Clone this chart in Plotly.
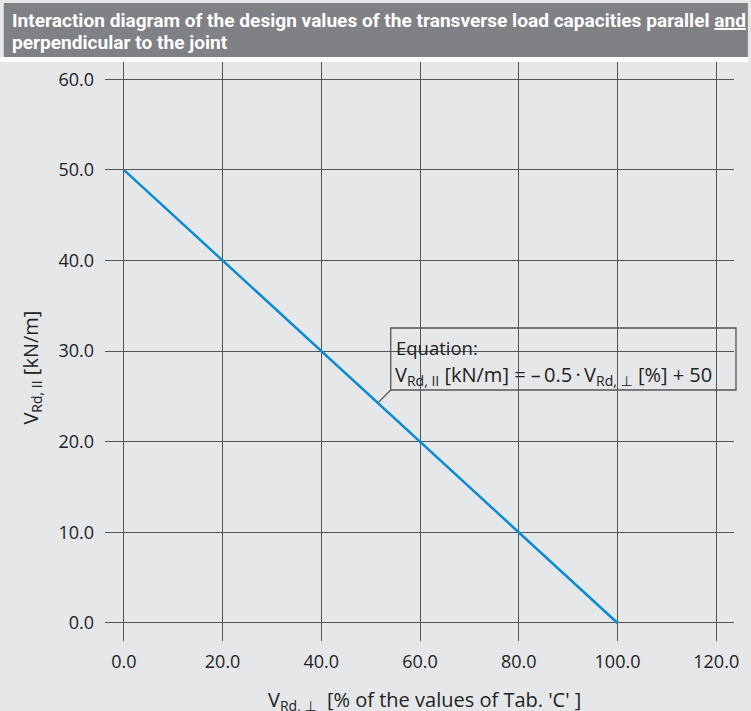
import plotly.graph_objects as go

# data
x_percent = [0, 100]
v_parallel = [50, 0]
x_ticks = [0, 20, 40, 60, 80, 100, 120]
y_ticks = [0, 10, 20, 30, 40, 50, 60]
title_line1 = "Interaction diagram of the design values of the transverse load capacities parallel <u>and</u>"
title_line2 = "perpendicular to the joint"
eq_line1 = "Equation:"
eq_line2 = ("V<sub>Rd, II</sub> [kN/m] = \u2013\u20090.5\u2009\u00b7\u2009"
            "V<sub>Rd, \u22a5</sub> [%] + 50")
x_title = "V<sub>Rd, \u22a5</sub>  [% of the values of Tab. 'C' ]"
y_title = "V<sub>Rd, II</sub> [kN/m]"

W, H = 751, 711
L, R, T, B = 105, 12, 62, 70
pw, ph = W - L - R, H - T - B

def px(xp):
    return (xp - L) / pw

def py(yp):
    return (H - B - yp) / ph

BG = "#e6e7e9"
GRID = "#555555"
FONT = "Open Sans, DejaVu Sans, sans-serif"
TFONT = "Liberation Sans Narrow, Roboto, sans-serif"

fig = go.Figure()
fig.add_trace(go.Scatter(x=x_percent, y=v_parallel, mode="lines",
                         line=dict(color="#0a8bd2", width=2.5),
                         showlegend=False, hoverinfo="skip"))

fig.update_layout(
    width=W, height=H,
    margin=dict(l=L, r=R, t=T, b=B),
    paper_bgcolor=BG, plot_bgcolor=BG,
    font=dict(family=FONT, size=18, color="#222222"),
    showlegend=False,
)
fig.update_xaxes(range=[-3.82, 123.6], tickvals=x_ticks, tickformat=".1f",
                 showgrid=True, gridcolor=GRID, gridwidth=1.4, zeroline=False,
                 showline=False, ticks="", ticklabelstandoff=8,
                 tickfont=dict(size=18, color="#222222"))
fig.update_yaxes(range=[-1.99, 61.9], tickvals=y_ticks, tickformat=".1f",
                 showgrid=True, gridcolor=GRID, gridwidth=1.4, zeroline=False,
                 showline=False, ticks="", ticklabelstandoff=10,
                 tickfont=dict(size=18, color="#222222"))

shapes = []
# title banner
shapes.append(dict(type="rect", xref="paper", yref="paper",
                   x0=px(3), x1=px(W + 2), y0=py(57), y1=py(3),
                   fillcolor="#808184", line=dict(width=0), layer="above"))
# white band
shapes.append(dict(type="rect", xref="paper", yref="paper",
                   x0=px(-2), x1=px(W + 2), y0=py(62), y1=py(57),
                   fillcolor="#ffffff", line=dict(width=0), layer="above"))
# cover behind equation box
shapes.append(dict(type="rect", xref="paper", yref="paper",
                   x0=px(388), x1=px(750), y0=py(395), y1=py(322),
                   fillcolor=BG, line=dict(width=0), layer="between"))
# equation box border
shapes.append(dict(type="rect", xref="paper", yref="paper",
                   x0=px(393), x1=px(741), y0=py(390), y1=py(328),
                   fillcolor="rgba(0,0,0,0)", line=dict(color="#555555", width=1.3),
                   layer="above"))
# leader line
shapes.append(dict(type="line", xref="paper", yref="paper",
                   x0=px(393), x1=px(381), y0=py(390), y1=py(402),
                   line=dict(color="#555555", width=1.2), layer="above"))
fig.update_layout(shapes=shapes)

annotations = [
    dict(text=title_line1, xref="paper", yref="paper", x=px(9), y=py(20.5),
         xanchor="left", yanchor="middle", align="left", showarrow=False,
         font=dict(family=TFONT, size=19.1, color="#ffffff", weight="bold")),
    dict(text=title_line2, xref="paper", yref="paper", x=px(9), y=py(42.5),
         xanchor="left", yanchor="middle", align="left", showarrow=False,
         font=dict(family=TFONT, size=19.1, color="#ffffff", weight="bold")),
    dict(text=eq_line1, xref="paper", yref="paper", x=px(396), y=py(347),
         xanchor="left", yanchor="middle", align="left", showarrow=False,
         font=dict(family=FONT, size=18.5, color="#222222")),
    dict(text=eq_line2, xref="paper", yref="paper", x=px(395), y=py(375),
         xanchor="left", yanchor="middle", align="left", showarrow=False,
         font=dict(family=FONT, size=20, color="#222222")),
    dict(text=x_title, xref="paper", yref="paper", x=px(427), y=py(700),
         xanchor="center", yanchor="middle", showarrow=False,
         font=dict(family=FONT, size=20, color="#222222")),
    dict(text=y_title, xref="paper", yref="paper", x=px(30), y=py(368),
         xanchor="center", yanchor="middle", textangle=-90, showarrow=False,
         font=dict(family=FONT, size=20, color="#222222")),
]
fig.update_layout(annotations=annotations)

fig.write_html("out.html", config={"displayModeBar": False},
               post_script="document.body.style.margin='0';document.body.style.padding='0';"
                           "document.body.style.background='#e6e7e9';document.body.style.overflow='hidden';")
